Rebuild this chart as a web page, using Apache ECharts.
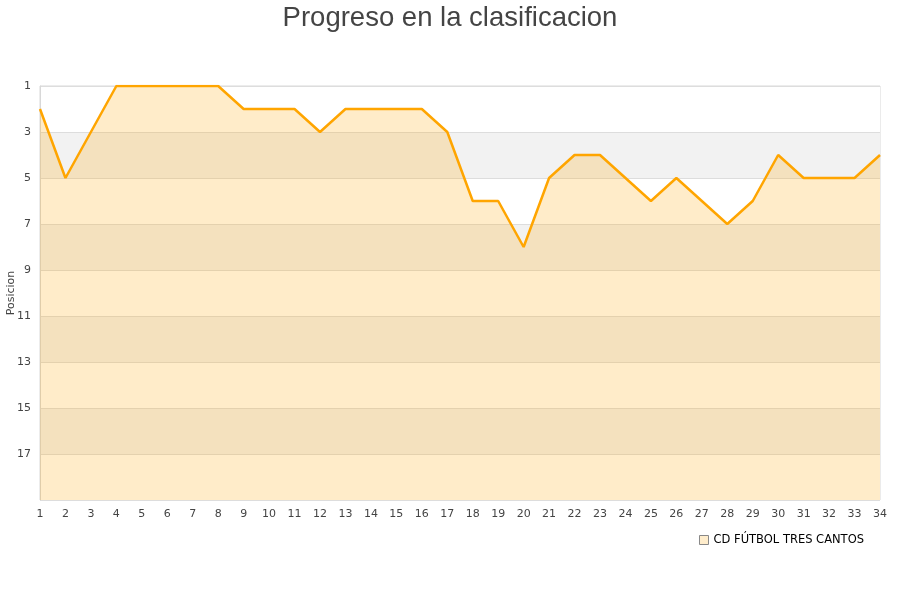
<!DOCTYPE html>
<html>
<head>
<meta charset="utf-8">
<script src="https://cdn.jsdelivr.net/npm/echarts@6/dist/echarts.min.js"></script>
<style>html,body{margin:0;padding:0;background:#fff}#c{width:900px;height:600px}</style>
</head>
<body>
<div id="c"></div>
<script>
const jornadas = ['1','2','3','4','5','6','7','8','9','10','11','12','13','14','15','16','17','18','19','20','21','22','23','24','25','26','27','28','29','30','31','32','33','34'];
const posiciones = [2,5,3,1,1,1,1,1,2,2,2,3,2,2,2,2,3,6,6,8,5,4,4,5,6,5,6,7,6,4,5,5,5,4];
const equipo = 'CD FÚTBOL TRES CANTOS';
const titulo = 'Progreso en la clasificacion';
const ejeY = 'Posicion';

const chart = echarts.init(document.getElementById('c'));
chart.setOption({
  animation: false,
  backgroundColor: '#fff',
  title: {
    text: titulo, left: 'center', top: -1,
    textStyle: { fontFamily: 'Liberation Sans', fontSize: 27.5, fontWeight: 'normal', color: '#444' }
  },
  grid: { left: 40, right: 20, top: 86, bottom: 100, containLabel: false, outerBoundsMode: 'none',
    show: true, borderColor: '#d8d8d8', borderWidth: 1, backgroundColor: 'transparent' },
  legend: {
    right: 31, top: 529,
    itemWidth: 9, itemHeight: 9, itemGap: 9,
    textStyle: { fontFamily: 'DejaVu Sans', fontSize: 11.5, color: '#000' },
    data: [{ name: equipo, icon: 'rect', itemStyle: { color: '#ffedcc', borderColor: '#888', borderWidth: 1 } }]
  },
  xAxis: {
    type: 'category', data: jornadas, boundaryGap: false,
    axisLine: { show: false }, axisTick: { show: false },
    axisLabel: { fontFamily: 'DejaVu Sans', fontSize: 11, color: '#444', margin: 9, interval: 0 },
    splitLine: { show: false }
  },
  yAxis: {
    type: 'value', inverse: true, min: 1, max: 19, interval: 2,
    name: ejeY, nameLocation: 'middle', nameGap: 23, nameRotate: 90, nameMoveOverlap: false,
    nameTextStyle: { fontFamily: 'DejaVu Sans', fontSize: 11, color: '#444' },
    axisLine: { show: true, lineStyle: { color: '#d8d8d8' } }, axisTick: { show: false },
    axisLabel: { fontFamily: 'DejaVu Sans', fontSize: 11, color: '#444', margin: 9,
      formatter: v => (v === 19 ? '' : String(v)) },
    splitLine: { show: true, lineStyle: { color: '#dddddd', width: 1 } },
    splitArea: { show: true, areaStyle: { color: ['#ffffff', '#f2f2f2'] } }
  },
  series: [{
    name: equipo, type: 'line', data: posiciones,
    symbol: 'none', smooth: false,
    lineStyle: { color: '#ffa500', width: 2.5 },
    itemStyle: { color: '#ffa500' },
    areaStyle: { color: 'rgba(255,165,0,0.21)', opacity: 1, origin: 'end' }
  }]
});
</script>
</body>
</html>
